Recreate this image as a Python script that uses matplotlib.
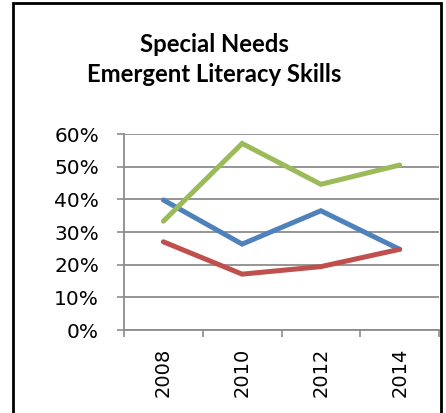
import matplotlib
matplotlib.use("Agg")
import matplotlib.pyplot as plt
from matplotlib.patches import Rectangle
from matplotlib.ticker import FixedLocator, PercentFormatter

years = ["2008", "2010", "2012", "2014"]
blue_vals = [0.398, 0.263, 0.365, 0.247]
red_vals = [0.270, 0.171, 0.194, 0.247]
green_vals = [0.333, 0.571, 0.446, 0.505]

colors = ["#4F81BD", "#C0504D", "#9BBB59"]
series = [blue_vals, red_vals, green_vals]

plt.rcParams['font.family'] = ['DejaVu Sans']

fig = plt.figure(figsize=(4.46, 4.13), dpi=100)
ax = fig.add_axes([124 / 446, 1 - 330 / 413, 315 / 446, 196 / 413])

x = list(range(len(years)))
for vals, c in zip(series, colors):
    ax.plot(x, vals, color=c, linewidth=3.6, solid_capstyle="round",
            solid_joinstyle="miter", zorder=3)

ax.set_xlim(-0.5, len(years) - 0.5)
ax.set_ylim(0, 0.6)
ax.set_yticks([i / 10 for i in range(7)])
ax.yaxis.set_major_formatter(PercentFormatter(1.0, decimals=0))
ax.grid(axis="y", color="#8c8c8c", linewidth=1.3, zorder=1)

# labels at category centres, tick marks at category boundaries
ax.xaxis.set_major_locator(FixedLocator([i - 0.5 for i in range(len(years) + 1)]))
ax.xaxis.set_minor_locator(FixedLocator(x))
ax.set_xticklabels([])
ax.set_xticklabels(years, minor=True, rotation=90)
ax.tick_params(axis="x", which="major", length=5, width=1.2, color="#8c8c8c")
ax.tick_params(axis="x", which="minor", length=0, pad=13, labelsize=14)
ax.tick_params(axis="y", length=5, width=1.2, color="#8c8c8c", pad=13, labelsize=14.5)

for side in ("top", "right"):
    ax.spines[side].set_visible(False)
for side in ("left", "bottom"):
    ax.spines[side].set_color("#8c8c8c")
    ax.spines[side].set_linewidth(1.3)

title_font = dict(ha="center", va="center", fontsize=17.2, fontweight="bold",
                  family=["Lato", "DejaVu Sans"])
fig.text(214 / 446, 1 - 44 / 413, "Special Needs", **title_font)
fig.text(214 / 446, 1 - 75 / 413, "Emergent Literacy Skills", **title_font)

# chart frame, bottom edge runs off the canvas
fig.patches.append(Rectangle((13 / 446, -0.1), 428 / 446, 1.1 - 3 / 413,
                             transform=fig.transFigure, fill=False,
                             edgecolor="black", linewidth=2))

fig.savefig("out.png", dpi=100)
